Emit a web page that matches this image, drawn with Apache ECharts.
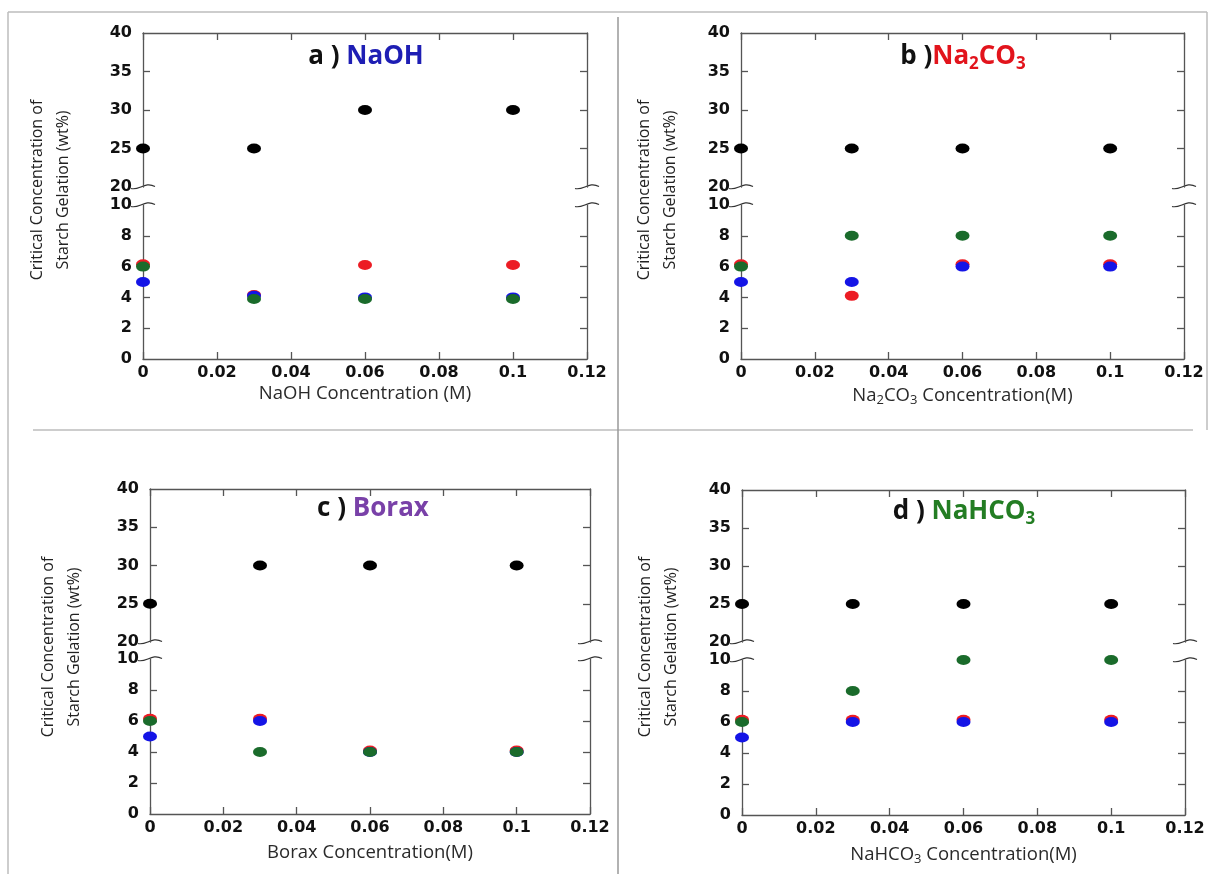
<!DOCTYPE html>
<html><head><meta charset="utf-8">
<script src="https://cdn.jsdelivr.net/npm/echarts@6/dist/echarts.min.js"></script>
<style>html,body{margin:0;padding:0;background:#fff}#c{width:1209px;height:874px}</style>
</head><body><div id="c"></div>
<script>
// ---- data ----
const xValues = [0, 0.03, 0.06, 0.1];
const xTicks = [0, 0.02, 0.04, 0.06, 0.08, 0.1, 0.12];
const upperTicks = [20, 25, 30, 35, 40];
const lowerTicks = [0, 2, 4, 6, 8, 10];

const naohBlack = [25, 25, 30, 30];
const naohRed = [6.15, 4.15, 6.1, 6.1];
const naohBlue = [5, 4.1, 4.0, 4.0];
const naohGreen = [6, 3.9, 3.9, 3.9];

const carbBlack = [25, 25, 25, 25];
const carbRed = [6.15, 4.1, 6.15, 6.15];
const carbBlue = [5, 5, 6, 6];
const carbGreen = [6, 8, 8, 8];

const boraxBlack = [25, 30, 30, 30];
const boraxRed = [6.15, 6.15, 4.1, 4.1];
const boraxBlue = [5, 6, 4, 4];
const boraxGreen = [6, 4, 4, 4];

const bicarbBlack = [25, 25, 25, 25];
const bicarbRed = [6.15, 6.15, 6.15, 6.15];
const bicarbBlue = [5, 6, 6, 6];
const bicarbGreen = [6, 8, 10, 10];

const yName = 'Critical Concentration of\nStarch Gelation (wt%)';

const panelData = [
  {title: '{k|a ) }{c|NaOH}', tColor: '#1e1eb4', xName: 'NaOH Concentration (M)',
   black: naohBlack, red: naohRed, blue: naohBlue, green: naohGreen},
  {title: '{k|b )}{c|Na}{s|2}{c|CO}{s|3}', tColor: '#e2141c', xName: '{t|Na}{s|2}{t|CO}{s|3}{t| Concentration(M)}',
   black: carbBlack, red: carbRed, blue: carbBlue, green: carbGreen},
  {title: '{k|c ) }{c|Borax}', tColor: '#7941a8', xName: 'Borax Concentration(M)',
   black: boraxBlack, red: boraxRed, blue: boraxBlue, green: boraxGreen},
  {title: '{k|d ) }{c|NaHCO}{s|3}', tColor: '#237d23', xName: '{t|NaHCO}{s|3}{t| Concentration(M)}',
   black: bicarbBlack, red: bicarbRed, blue: bicarbBlue, green: bicarbGreen}
];

// ---- layout / style ----
const layouts = [
  {left: 143, width: 444, upTop: 33, upH: 154, loTop: 205, loH: 154, nameTop: 23, nameH: 334, xGap: 25, yGap: 67, tx: 366, ty: 41},
  {left: 741, width: 443, upTop: 33, upH: 154, loTop: 205, loH: 154, nameTop: 23, nameH: 334, xGap: 25, yGap: 58, tx: 963, ty: 41},
  {left: 150, width: 440, upTop: 489, upH: 153, loTop: 659, loH: 155, nameTop: 480, nameH: 334, xGap: 29, yGap: 63, tx: 373, ty: 493},
  {left: 742, width: 443, upTop: 490, upH: 152, loTop: 660, loH: 155, nameTop: 480, nameH: 334, xGap: 28, yGap: 58, tx: 964, ty: 496}
];
const AX = '#555';
const lineStyle = {color: AX, width: 1.3};
const tickLabel = {color: '#111', fontWeight: 'bold', fontFamily: 'DejaVu Sans', fontSize: 16};
const dotColors = {red: '#ec1c24', blue: '#1414e6', green: '#1a6b2b', black: '#000000'};
const SYM = [14, 10];

const grid = [], xAxis = [], yAxis = [], series = [], title = [];

panelData.forEach((pd, p) => {
  const L = layouts[p];
  const gU = 3 * p, gL = 3 * p + 1, gN = 3 * p + 2;
  grid.push({left: L.left, width: L.width, top: L.upTop, height: L.upH, outerBoundsMode: 'none'});
  grid.push({left: L.left, width: L.width, top: L.loTop, height: L.loH, outerBoundsMode: 'none'});
  grid.push({left: L.left, width: L.width, top: L.nameTop, height: L.nameH, outerBoundsMode: 'none'});

  // x axes
  xAxis.push({type: 'value', gridIndex: gU, position: 'top', min: 0, max: 0.12, interval: 0.02,
    axisLine: {show: true, onZero: false, lineStyle},
    axisTick: {show: true, inside: true, length: 7, lineStyle, customValues: xTicks},
    axisLabel: {show: false}, splitLine: {show: false}});
  xAxis.push({type: 'value', gridIndex: gL, position: 'bottom', min: 0, max: 0.12, interval: 0.02,
    axisLine: {show: true, onZero: false, lineStyle},
    axisTick: {show: true, inside: true, length: 7, lineStyle, customValues: xTicks},
    axisLabel: Object.assign({margin: 6, customValues: xTicks}, tickLabel),
    splitLine: {show: false},
    name: pd.xName, nameLocation: 'middle', nameGap: L.xGap,
    nameTextStyle: {fontFamily: 'Open Sans', fontSize: 18.5, color: '#2a2a2a',
      rich: {t: {fontFamily: 'Open Sans', fontSize: 18.5, color: '#2a2a2a', lineHeight: 23},
             s: {fontFamily: 'Open Sans', fontSize: 13, color: '#2a2a2a', lineHeight: 13, verticalAlign: 'bottom'}}}});
  xAxis.push({type: 'value', gridIndex: gN, show: false, min: 0, max: 1});

  const inner = arr => arr.slice(1, -1);
  // upper y (left, right)
  yAxis.push({type: 'value', gridIndex: gU, position: 'left', min: 20, max: 40, interval: 5,
    axisLine: {show: true, onZero: false, lineStyle},
    axisTick: {show: true, inside: true, length: 7, lineStyle, customValues: inner(upperTicks)},
    axisLabel: Object.assign({margin: 11, customValues: upperTicks}, tickLabel), splitLine: {show: false}});
  yAxis.push({type: 'value', gridIndex: gU, position: 'right', min: 20, max: 40, interval: 5,
    axisLine: {show: true, onZero: false, lineStyle},
    axisTick: {show: true, inside: true, length: 7, lineStyle, customValues: inner(upperTicks)},
    axisLabel: {show: false}, splitLine: {show: false}});
  // lower y (left, right)
  yAxis.push({type: 'value', gridIndex: gL, position: 'left', min: 0, max: 10, interval: 2,
    axisLine: {show: true, onZero: false, lineStyle},
    axisTick: {show: true, inside: true, length: 7, lineStyle, customValues: inner(lowerTicks)},
    axisLabel: Object.assign({margin: 11, customValues: lowerTicks}, tickLabel), splitLine: {show: false}});
  yAxis.push({type: 'value', gridIndex: gL, position: 'right', min: 0, max: 10, interval: 2,
    axisLine: {show: true, onZero: false, lineStyle},
    axisTick: {show: true, inside: true, length: 7, lineStyle, customValues: inner(lowerTicks)},
    axisLabel: {show: false}, splitLine: {show: false}});
  // name-only y axis spanning both parts
  yAxis.push({type: 'value', gridIndex: gN, position: 'left', min: 0, max: 1,
    axisLine: {show: false}, axisTick: {show: false}, axisLabel: {show: false}, splitLine: {show: false},
    name: yName, nameLocation: 'middle', nameGap: L.yGap,
    nameTextStyle: {fontFamily: 'Open Sans', fontSize: 16, lineHeight: 26, color: '#222'}});

  const yU = 5 * p, yLo = 5 * p + 2;
  const mk = (vals) => xValues.map((x, i) => [x, vals[i]]);
  ['red', 'blue', 'green'].forEach(c => {
    series.push({type: 'scatter', xAxisIndex: gL, yAxisIndex: yLo, data: mk(pd[c]),
      symbol: 'circle', symbolSize: SYM, clip: false, itemStyle: {color: dotColors[c], opacity: 1},
      emphasis: {disabled: true}, silent: true});
  });
  series.push({type: 'scatter', xAxisIndex: gU, yAxisIndex: yU, data: mk(pd.black),
    symbol: 'circle', symbolSize: SYM, clip: false, itemStyle: {color: dotColors.black, opacity: 1},
    emphasis: {disabled: true}, silent: true});

  title.push({text: pd.title, left: L.tx, top: L.ty, textAlign: 'center', padding: 0,
    textStyle: {rich: {
      k: {fontFamily: 'Open Sans', fontWeight: 'bold', fontSize: 26, color: '#111', lineHeight: 32},
      c: {fontFamily: 'Open Sans', fontWeight: 'bold', fontSize: 26, color: pd.tColor, lineHeight: 32},
      s: {fontFamily: 'Open Sans', fontWeight: 'bold', fontSize: 17, color: pd.tColor, lineHeight: 17, verticalAlign: 'bottom'}
    }}});
});

const chart = echarts.init(document.getElementById('c'), null, {renderer: 'canvas'});
chart.setOption({
  animation: false, backgroundColor: '#ffffff',
  title, grid, xAxis, yAxis, series
});

// ---- decorations: frame lines and axis-break squiggles ----
const deco = [];
const L1 = (x1, y1, x2, y2, color) => ({type: 'line', silent: true,
  shape: {x1, y1, x2, y2}, style: {stroke: color, lineWidth: 1.5}});
deco.push(L1(8, 12, 1207, 12, '#bdbdbd'));
deco.push(L1(8, 12, 8, 874, '#bdbdbd'));
deco.push(L1(1207, 12, 1207, 430, '#bdbdbd'));
deco.push(L1(33, 430, 1193, 430, '#bdbdbd'));
deco.push(L1(618, 17, 618, 874, '#999999'));

panelData.forEach((pd, p) => {
  const gL = 3 * p + 1;
  const xl = chart.convertToPixel({xAxisIndex: gL}, 0);
  const xr = chart.convertToPixel({xAxisIndex: gL}, 0.12);
  const yb = chart.convertToPixel({yAxisIndex: 5 * p}, upperTicks[0]);
  const yt = chart.convertToPixel({yAxisIndex: 5 * p + 2}, lowerTicks[lowerTicks.length - 1]);
  [xl, xr].forEach(x => {
    [yb, yt].forEach(y => {
      deco.push({type: 'bezierCurve', silent: true,
        shape: {x1: x - 12, y1: y + 1.5, cpx1: x - 4, cpy1: y + 4, cpx2: x + 2, cpy2: y - 6, x2: x + 12, y2: y - 0.5},
        style: {stroke: '#333', lineWidth: 1.1, fill: null}});
    });
  });
});
chart.setOption({graphic: deco});
</script>
</body></html>
